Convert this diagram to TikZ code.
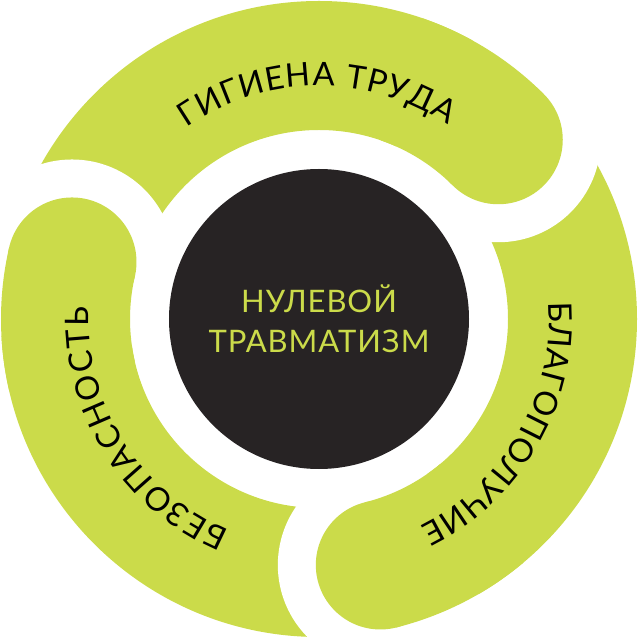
\documentclass[tikz,border=0pt]{standalone}
\usepackage{fontspec}
\setmainfont{Lato}
\newfontfamily\corefont{Lato}[LetterSpace=3]
\usetikzlibrary{decorations.text}
\definecolor{ringgreen}{RGB}{203,219,74}
\definecolor{coredark}{RGB}{39,35,36}
\tikzset{
  ringfill/.style={fill=ringgreen},
  gapfill/.style={fill=white},
  corenode/.style={circle, fill=coredark, minimum size=300pt, inner sep=0pt, align=center, text=ringgreen, font=\corefont\fontsize{31}{40}\selectfont},
  ringlabel/.style={decorate, decoration={text along path, text align=fit to path, text={|\fontsize{32.5}{36}\selectfont|#1}}},
}

\begin{document}
\begin{tikzpicture}[x=1pt,y=1pt]
  \useasboundingbox (-319,-320) rectangle (320,319);
  % green band
  \fill[ringfill, even odd rule] (0,0) circle (318) (0,0) circle (189);
  % white notches round the heads
  \foreach \a in {45,-76,167}{
    \fill[gapfill] (\a:253.5) circle (102.5);
  }
  % rounded heads
  \foreach \a in {45,-76,167}{
    \fill[ringfill] (\a:189) arc (\a:\a+26:189) -- (\a+26:318) arc (\a+26:\a:318) -- cycle;
    \fill[ringfill] (\a:253.5) circle (64.5);
  }
  \node[corenode] (core) at (0,0) {НУЛЕВОЙ\\ТРАВМАТИЗМ};
  % labels along the band
  \path[ringlabel={ГИГИЕНА ТРУДА}] (124.6:233) arc (124.6:56.4:233);
  \path[ringlabel={БЛАГОПОЛУЧИЕ}] (4:230) arc (4:-64:230);
  \path[ringlabel={БЕЗОПАСНОСТЬ}] (247:230) arc (247:177:230);
\end{tikzpicture}
\end{document}
